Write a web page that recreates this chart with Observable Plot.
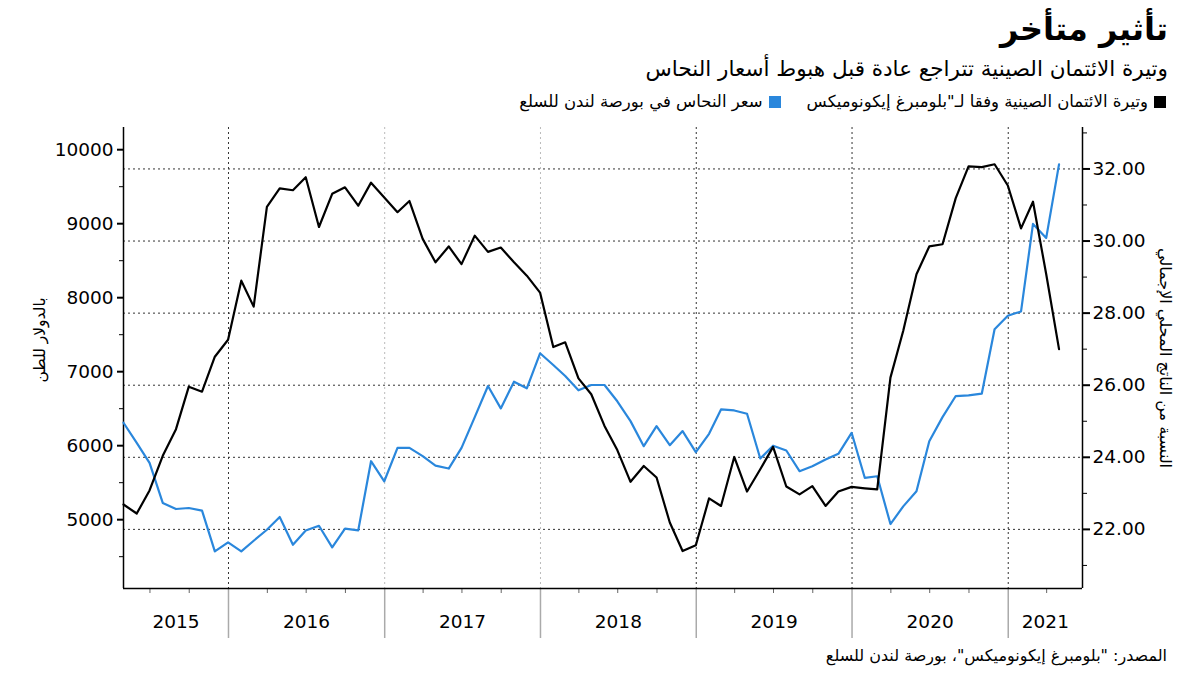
<!DOCTYPE html>
<html><head><meta charset="utf-8">
<script src="https://cdn.jsdelivr.net/npm/d3@7"></script>
<script src="https://cdn.jsdelivr.net/npm/@observablehq/plot@0.6"></script>
<style>
body{margin:0;background:#fff;width:1200px;height:675px;overflow:hidden;font-family:"DejaVu Sans",sans-serif;color:#000;}
#head{position:relative;height:115px;direction:rtl;}
#title{position:absolute;right:32px;top:13px;font-size:32px;font-weight:bold;line-height:1;}
#sub{position:absolute;right:32px;top:58px;font-size:21.5px;line-height:1;}
#legend{position:absolute;right:34px;top:94px;font-size:16.5px;line-height:1;display:flex;align-items:center;}
.item{display:flex;align-items:center;margin-left:26px;}
.sw{width:12px;height:12px;margin-left:6px;display:inline-block;}
#chart svg{display:block;}
#source{direction:rtl;text-align:right;padding-right:33px;font-size:16px;line-height:1;margin-top:3px;}
</style></head>
<body>
<div id="head">
  <div id="title">تأثير متأخر</div>
  <div id="sub">وتيرة الائتمان الصينية تتراجع عادة قبل هبوط أسعار النحاس</div>
  <div id="legend">
    <div class="item"><span class="sw" style="background:#000"></span><span>وتيرة الائتمان الصينية وفقا لـ"بلومبرغ إيكونوميكس</span></div>
    <div class="item"><span class="sw" style="background:#2a87dc"></span><span>سعر النحاس في بورصة لندن للسلع</span></div>
  </div>
</div>
<div id="chart"></div>
<div id="source">المصدر: "بلومبرغ إيكونوميكس"، بورصة لندن للسلع</div>
<script>
// Copper price, USD per tonne (left axis), month-end, Apr 2015 – Apr 2021
const copper = [6310, 6039, 5768, 5226, 5144, 5158, 5122, 4571, 4693, 4571, 4715, 4864, 5036, 4661, 4855, 4918, 4625, 4878, 4855, 5790, 5519, 5971, 5971, 5858, 5731, 5691, 5971, 6386, 6806, 6504, 6865, 6775, 7249, 7091, 6942, 6748, 6820, 6820, 6600, 6332, 5993, 6264, 6007, 6197, 5912, 6161, 6490, 6476, 6432, 5826, 6000, 5935, 5655, 5722, 5813, 5890, 6174, 5564, 5587, 4941, 5180, 5384, 6061, 6386, 6671, 6680, 6703, 7574, 7755, 7814, 8997, 8808, 9801];
// China credit impulse, % of GDP (right axis)
const credit = [22.69, 22.44, 23.08, 24.04, 24.78, 25.96, 25.82, 26.79, 27.26, 28.90, 28.18, 30.95, 31.46, 31.41, 31.77, 30.39, 31.31, 31.49, 30.98, 31.62, 31.21, 30.80, 31.11, 30.06, 29.41, 29.85, 29.36, 30.15, 29.70, 29.82, 29.41, 29.04, 28.57, 27.06, 27.19, 26.19, 25.75, 24.87, 24.20, 23.32, 23.76, 23.44, 22.19, 21.40, 21.56, 22.86, 22.65, 24.01, 23.05, 23.67, 24.29, 23.19, 22.97, 23.20, 22.65, 23.05, 23.18, 23.14, 23.11, 26.21, 27.51, 29.08, 29.85, 29.91, 31.19, 32.07, 32.05, 32.13, 31.54, 30.35, 31.09, 29.08, 27.00];
const firstMonth = "2015-04";
const years = [2015, 2016, 2017, 2018, 2019, 2020, 2021];
const leftTicks = [5000, 6000, 7000, 8000, 9000, 10000];
const leftMinor = [4500, 5500, 6500, 7500, 8500, 9500];
const rightTicks = [22, 24, 26, 28, 30, 32];
const rightMinor = [21, 23, 25, 27, 29, 31, 33];
const leftLabel = "بالدولار للطن";
const rightLabel = "النسبة من الناتج المحلي الإجمالي";

const leftDomain = [4070, 10300];
const rightDomain = [20.36, 33.15];
const xDomain = [new Date(Date.UTC(2015, 3, 30)), new Date(Date.UTC(2021, 5, 24))];

// month-end dates
const start = new Date(firstMonth + "-01T00:00:00Z");
const dates = copper.map((_, i) => d3.utcDay.offset(d3.utcMonth.offset(start, i + 1), -1));
const rows = dates.map((d, i) => ({date: d, copper: copper[i], credit: credit[i]}));

const toLeft = d3.scaleLinear().domain(rightDomain).range(leftDomain);

const yearStarts = years.slice(1).map(y => new Date(Date.UTC(y, 0, 1)));
const darkGrid = yearStarts.filter(d => ![2017, 2018].includes(d.getUTCFullYear()));
const lightGrid = yearStarts.filter(d => [2017, 2018].includes(d.getUTCFullYear()));
const quarters = d3.utcMonth.every(3).range(xDomain[0], xDomain[1]).filter(d => d.getUTCMonth() !== 0);
const yearMid = years.map(y => {
  const a = new Date(Math.max(+new Date(Date.UTC(y, 0, 1)), +xDomain[0]));
  const b = new Date(Math.min(+new Date(Date.UTC(y + 1, 0, 1)), +xDomain[1]));
  return {year: String(y), mid: new Date((+a + +b) / 2)};
});

const chart = Plot.plot({
  width: 1200,
  height: 530,
  marginLeft: 123,
  marginRight: 118,
  marginTop: 12,
  marginBottom: 57,
  style: {fontFamily: "DejaVu Sans", fontSize: "18.5px", color: "#000", background: "#fff"},
  x: {type: "utc", domain: xDomain, label: null},
  y: {domain: leftDomain, label: null},
  marks: [
    Plot.gridY({ticks: rightTicks.map(toLeft), stroke: "#333", strokeOpacity: 1, strokeDasharray: "2,3", strokeWidth: 1}),
    Plot.gridX({ticks: darkGrid, stroke: "#333", strokeOpacity: 1, strokeDasharray: "2,3", strokeWidth: 1}),
    Plot.gridX({ticks: lightGrid, stroke: "#bbb", strokeOpacity: 1, strokeDasharray: "2,3", strokeWidth: 1}),
    Plot.axisY({ticks: leftTicks, anchor: "left", tickSize: 6, tickPadding: 4, tickFormat: d3.format("d"), label: null, strokeWidth: 2}),
    Plot.axisY({ticks: leftMinor, anchor: "left", tickSize: 4, tickFormat: () => "", label: null}),
    Plot.axisY({ticks: rightTicks.map(toLeft), anchor: "right", tickSize: 7, tickPadding: 3, tickFormat: v => toLeft.invert(v).toFixed(2), label: null, strokeWidth: 2}),
    Plot.axisY({ticks: rightMinor.map(toLeft), anchor: "right", tickSize: 4, tickFormat: () => "", label: null}),
    Plot.axisX({ticks: yearStarts, anchor: "bottom", tickSize: 50, tickFormat: () => "", stroke: "#aaa", strokeWidth: 1.5, label: null}),
    Plot.axisX({ticks: quarters, anchor: "bottom", tickSize: 5, tickFormat: () => "", stroke: "#666", label: null}),
    Plot.text(yearMid, {x: "mid", frameAnchor: "bottom", dy: 39, text: "year", fontSize: 18.5}),
    Plot.ruleX([xDomain[0]], {stroke: "#000", strokeWidth: 1.5}),
    Plot.ruleX([xDomain[1]], {stroke: "#000", strokeWidth: 1.5}),
    Plot.ruleY([leftDomain[0]], {stroke: "#000", strokeWidth: 1.5}),
    Plot.line(rows, {x: "date", y: "copper", stroke: "#2a87dc", strokeWidth: 2.2}),
    Plot.line(rows, {x: "date", y: d => toLeft(d.credit), stroke: "#000", strokeWidth: 2.2}),
    Plot.text([leftLabel], {frameAnchor: "left", dx: -83, dy: -18, rotate: -90, textAnchor: "middle", fontSize: 15.5}),
    Plot.text([rightLabel], {frameAnchor: "right", dx: 83, rotate: 90, textAnchor: "middle", fontSize: 16})
  ]
});
document.getElementById("chart").appendChild(chart);
</script>
</body></html>
